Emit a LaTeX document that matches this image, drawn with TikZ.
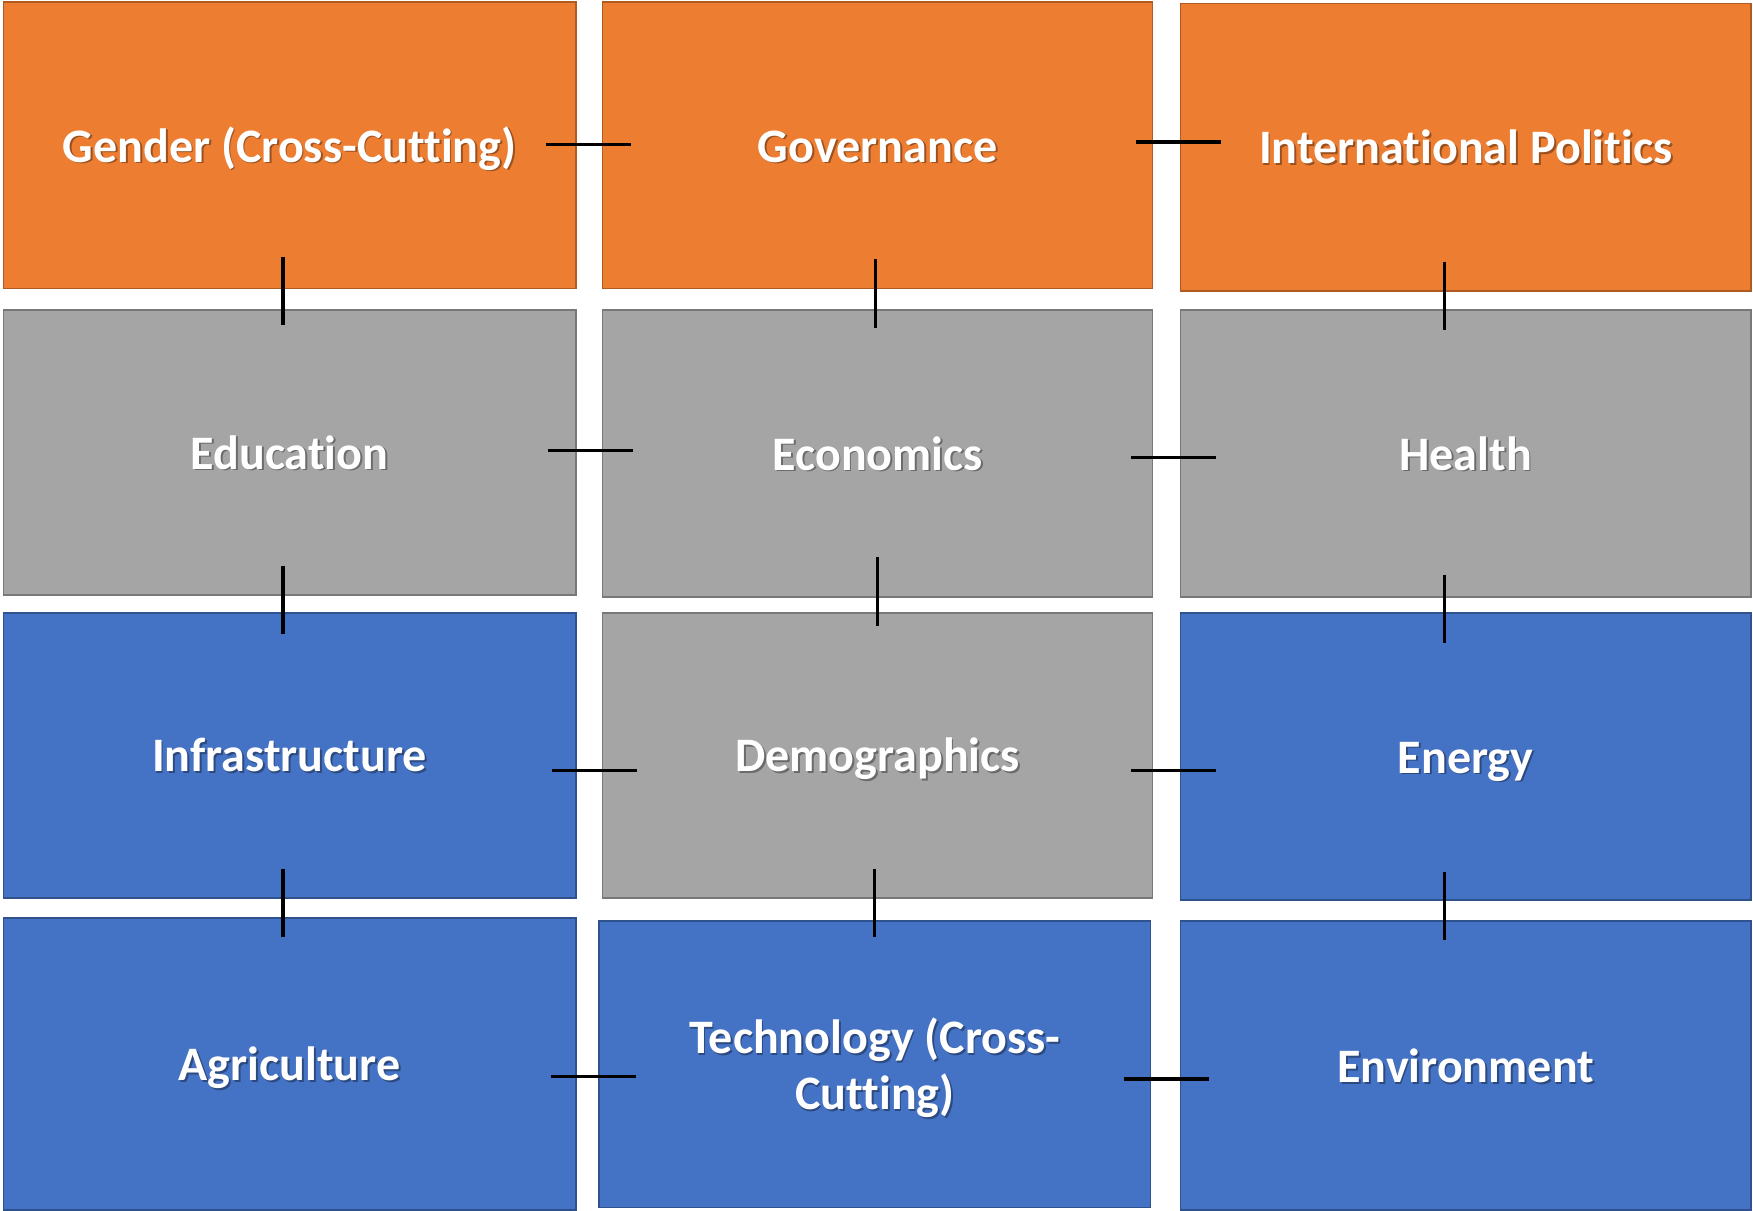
\documentclass[tikz,border=0pt]{standalone}
\usepackage{fontspec}
\setmainfont[RawFeature={-liga}]{Carlito}
\usetikzlibrary{calc}
\definecolor{orfill}{HTML}{ED7D31}
\definecolor{ordraw}{HTML}{AE5A21}
\definecolor{grfill}{HTML}{A5A5A5}
\definecolor{grdraw}{HTML}{787878}
\definecolor{blfill}{HTML}{4472C4}
\definecolor{bldraw}{HTML}{2F528F}
\tikzset{
  cell/.style={draw, line width=0.75pt, inner sep=0pt, outer sep=0pt},
  orcell/.style={cell, fill=orfill, draw=ordraw},
  grcell/.style={cell, fill=grfill, draw=grdraw},
  blcell/.style={cell, fill=blfill, draw=bldraw},
  lbl/.style={text=white, font=\bfseries\fontsize{21.5}{25}\selectfont, align=center, inner sep=0pt},
  oneline/.style={text height=16pt, text depth=1pt},
  lblshadow/.style={lbl, text=black, text opacity=0.35},
  link/.style={line width=1.5pt, black}
}
\newcommand\celltext[4][oneline]{%
  \node[lblshadow, #1] (#2s) at ($(#3.center)+(1.6,1.6)$) {#4};
  \node[lbl, #1] (#2) at (#3.center) {#4};}
\begin{document}
\begin{tikzpicture}[x=0.5pt,y=-0.5pt]
\fill[white] (0,0) rectangle (1568,1083);
\useasboundingbox (0,0) rectangle (1568,1083);
% row 1
\node[orcell, minimum width=256pt, minimum height=128pt] (gen) at (259,130) {};
\node[orcell, minimum width=246pt, minimum height=128pt] (gov) at (785,130) {};
\node[orcell, minimum width=255pt, minimum height=128.5pt] (intl) at (1311,131.5) {};
% row 2
\node[grcell, minimum width=256pt, minimum height=127.5pt] (edu) at (259,404.5) {};
\node[grcell, minimum width=246pt, minimum height=128.5pt] (eco) at (785,405.5) {};
\node[grcell, minimum width=255pt, minimum height=128.5pt] (hea) at (1311,405.5) {};
% row 3
\node[blcell, minimum width=256pt, minimum height=127.5pt] (inf) at (259,675.5) {};
\node[grcell, minimum width=246pt, minimum height=127.5pt] (dem) at (785,675.5) {};
\node[blcell, minimum width=255pt, minimum height=128.5pt] (ene) at (1311,676.5) {};
% row 4
\node[blcell, minimum width=256pt, minimum height=130.5pt] (agr) at (259,951.5) {};
\node[blcell, minimum width=246.5pt, minimum height=128pt] (tec) at (782.5,952) {};
\node[blcell, minimum width=255pt, minimum height=129pt] (env) at (1311,953) {};
% labels
\celltext{genT}{gen}{Gender (Cross-Cutting)}
\celltext{govT}{gov}{Governance}
\celltext{intlT}{intl}{International Politics}
\celltext{eduT}{edu}{Education}
\celltext{ecoT}{eco}{Economics}
\celltext{heaT}{hea}{Health}
\celltext{infT}{inf}{Infrastructure}
\celltext{demT}{dem}{Demographics}
\celltext{eneT}{ene}{Energy}
\celltext{agrT}{agr}{Agriculture}
\celltext[yshift=-1.5pt]{tecT}{tec}{Technology (Cross-\\Cutting)}
\celltext{envT}{env}{Environment}
% connectors
\draw[link] ($(gen.center)+(229,-1)$) -- ($(gov.center)+(-221,-1)$);
\draw[link] ($(gov.center)+(231,-3)$) -- ($(intl.center)+(-219,-4.5)$);
\draw[link] ($(gen.center)+(-6,100)$) -- ($(edu.center)+(-6,-113.5)$);
\draw[link] ($(gov.center)+(-2,102)$) -- ($(eco.center)+(-2,-112.5)$);
\draw[link] ($(intl.center)+(-19,102.5)$) -- ($(hea.center)+(-19,-110.5)$);
\draw[link] ($(edu.center)+(231,-1.5)$) -- ($(eco.center)+(-219,-2.5)$);
\draw[link] ($(eco.center)+(227,3.5)$) -- ($(hea.center)+(-223,3.5)$);
\draw[link] ($(edu.center)+(-6,101.5)$) -- ($(inf.center)+(-6,-108.5)$);
\draw[link] ($(eco.center)+(0,92.5)$) -- ($(dem.center)+(0,-115.5)$);
\draw[link] ($(hea.center)+(-19,108.5)$) -- ($(ene.center)+(-19,-101.5)$);
\draw[link] ($(inf.center)+(235,13.5)$) -- ($(dem.center)+(-215,13.5)$);
\draw[link] ($(dem.center)+(227,13.5)$) -- ($(ene.center)+(-223,12.5)$);
\draw[link] ($(inf.center)+(-6,101.5)$) -- ($(agr.center)+(-6,-113.5)$);
\draw[link] ($(dem.center)+(-3,101.5)$) -- ($(tec.center)+(-0.5,-114)$);
\draw[link] ($(ene.center)+(-19,103.5)$) -- ($(env.center)+(-19,-112)$);
\draw[link] ($(agr.center)+(234,11.5)$) -- ($(tec.center)+(-213.5,11)$);
\draw[link] ($(tec.center)+(222.5,13)$) -- ($(env.center)+(-230,12)$);
\end{tikzpicture}
\end{document}
